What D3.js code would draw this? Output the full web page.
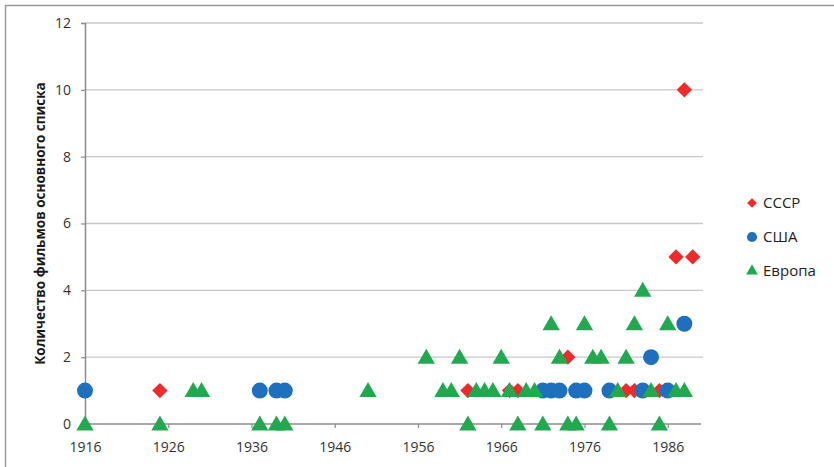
<!DOCTYPE html>
<html><head><meta charset="utf-8">
<script src="https://cdn.jsdelivr.net/npm/d3@7"></script>
<style>body{margin:0;background:#fff}svg{display:block}</style>
</head><body>
<svg id="c" width="834" height="467"></svg>
<script>
const seriesNames = ["СССР", "США", "Европа"];
const xTicks = [1916, 1926, 1936, 1946, 1956, 1966, 1976, 1986];
const yTicks = [0, 2, 4, 6, 8, 10, 12];
const ussr = [[1925,1],[1962,1],[1967,1],[1968,1],[1974,2],[1981,1],[1982,1],[1985,1],[1987,5],[1988,10],[1989,5]];
const usa = [[1916,1],[1937,1],[1939,1],[1940,1],[1971,1],[1972,1],[1973,1],[1975,1],[1976,1],[1979,1],[1983,1],[1984,2],[1986,1],[1988,3]];
const europe = [[1916,0],[1925,0],[1937,0],[1939,0],[1940,0],[1962,0],[1968,0],[1971,0],[1974,0],[1975,0],[1979,0],[1985,0],
  [1929,1],[1930,1],[1950,1],[1959,1],[1960,1],[1963,1],[1964,1],[1965,1],[1967,1],[1969,1],[1970,1],[1980,1],[1984,1],[1987,1],[1988,1],
  [1957,2],[1961,2],[1966,2],[1973,2],[1977,2],[1978,2],[1981,2],
  [1972,3],[1976,3],[1982,3],[1986,3],[1983,4]];

const svg = d3.select("#c");
const x = d3.scaleLinear().domain([1916, 1990]).range([85, 701]);
const y = d3.scaleLinear().domain([0, 12]).range([424, 23]);
const font = "'Open Sans', 'Liberation Sans', sans-serif";

// frame
svg.append("rect").attr("x",5.5).attr("y",5.5).attr("width",840).attr("height",470)
  .attr("fill","none").attr("stroke","#9a9a9a").attr("stroke-width",1.5);

// gridlines
svg.append("g").selectAll("line").data(yTicks.filter(d=>d>0)).join("line")
  .attr("x1", x(1916)).attr("x2", x(1990)+2).attr("y1", d=>y(d)).attr("y2", d=>y(d))
  .attr("stroke","#c8c8c8").attr("stroke-width",1.3);

// axes
const xa = svg.append("g").attr("transform",`translate(0,${y(0)})`)
  .call(d3.axisBottom(x).tickValues(xTicks).tickFormat(d3.format("d")).tickSize(4).tickPadding(14));
const ya = svg.append("g").attr("transform",`translate(${x(1916)},0)`)
  .call(d3.axisLeft(y).tickValues(yTicks).tickSize(4).tickPadding(10));
[xa, ya].forEach(a=>{
  a.select(".domain").attr("stroke","#8c8c8c").attr("stroke-width",1.5);
  a.selectAll(".tick line").attr("stroke","#8c8c8c").attr("stroke-width",1.2);
  a.selectAll("text").attr("fill","#333").style("font-family",font).style("font-size","14px");
});
xa.select(".domain").attr("d", `M${x(1916)},0H${x(1990)}`);

// y title
svg.append("text").attr("transform",`translate(45,${y(6)}) rotate(-90)`)
  .attr("text-anchor","middle").attr("fill","#1a1a1a")
  .style("font-family",font).style("font-size","13.5px").style("font-weight","bold")
  .text("Количество  фильмов основного списка");

const colors = ["#ee2a2a", "#1e6fbe", "#22a84f"];
const shapes = [d3.symbolDiamond2, d3.symbolCircle, d3.symbolTriangle];
const sizes = [150, 200, 130];
const data = [ussr, usa, europe];

data.forEach((arr, i) => {
  svg.append("g").selectAll("path").data(arr).join("path")
    .attr("d", d3.symbol().type(shapes[i]).size(sizes[i]))
    .attr("transform", d => `translate(${x(d[0])},${y(d[1]) + (i===2?1.5:0)})`)
    .attr("fill", colors[i]);
});

// legend
const lg = svg.append("g").attr("transform","translate(752,203)");
seriesNames.forEach((n,i)=>{
  const g = lg.append("g").attr("transform",`translate(0,${i*34})`);
  g.append("path").attr("d", d3.symbol().type(shapes[i]).size([60,80,60][i])).attr("fill",colors[i]);
  g.append("text").attr("x",11).attr("y",5).attr("fill","#222")
    .style("font-family",font).style("font-size","15px").text(n);
});
</script>
</body></html>
